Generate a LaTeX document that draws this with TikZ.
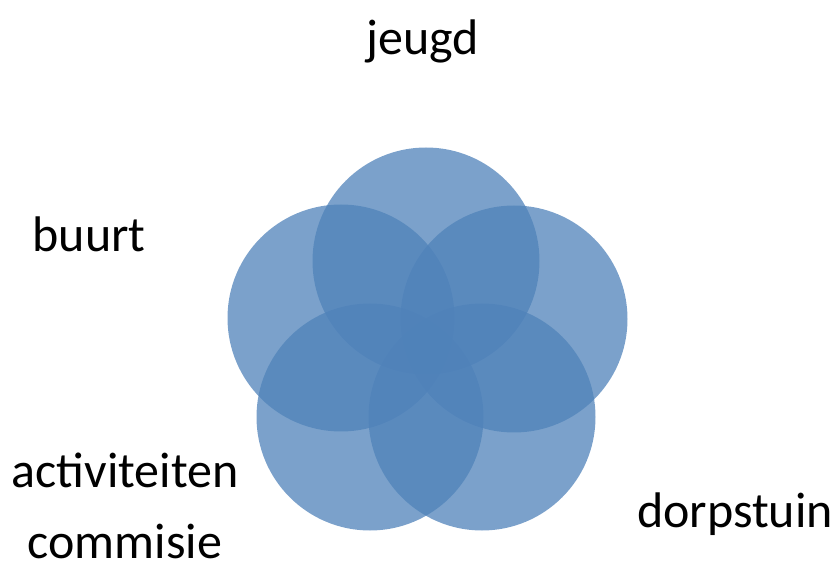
\documentclass[tikz,border=0pt]{standalone}
\usepackage{fontspec}
\setmainfont{Carlito}
\usepackage{tikz}
\usepackage{xcolor}
\usetikzlibrary{positioning, backgrounds}
\definecolor{vennblue}{RGB}{79,130,185}
\tikzset{%
  circ/.style={circle, minimum size=227pt, inner sep=0pt, fill=vennblue, fill opacity=0.75, draw=none},
  word/.style={anchor=base, inner sep=0pt, font=\fontsize{50}{60}\selectfont, text=black}
}

\begin{document}
\begin{tikzpicture}[x=1pt, y=-1pt]
  \useasboundingbox (0,0) rectangle (836,569);

  \node[circ] (c1) at (426,261) {};
  \node[circ] (c2) at (341,318) {};
  \node[circ] (c3) at (514,319) {};
  \node[circ] (c4) at (370,417) {};
  \node[circ] (c5) at (482,417) {};

  \node[word] (jeugd) at (422.5,55) {jeugd};
  \node[word] (buurt) at (89,252) {buurt};
  \node[word] (act) at (125,487) {activiteiten};
  \node[word] (com) at (125,558) {commisie};
  \node[word] (dorp) at (735,527) {dorpstuin};
\end{tikzpicture}
\end{document}
